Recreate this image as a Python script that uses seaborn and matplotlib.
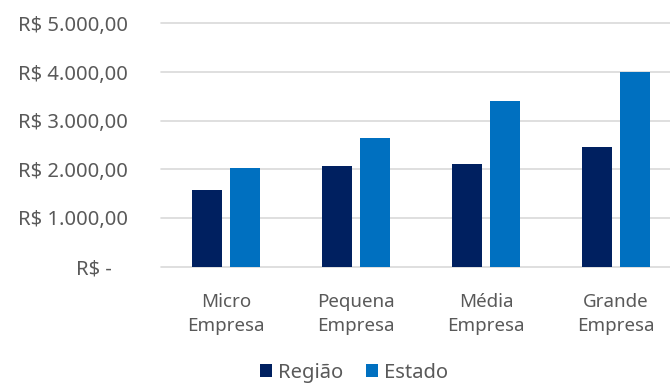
import matplotlib
matplotlib.use('Agg')
import matplotlib.pyplot as plt
import pandas as pd
import seaborn as sns
from matplotlib.patches import Patch
from matplotlib.ticker import FuncFormatter

# ── Data ───────────────────────────────────────────────────────
categorias = ['Micro\nEmpresa', 'Pequena\nEmpresa', 'Média\nEmpresa', 'Grande\nEmpresa']
regiao = [1570, 2070, 2110, 2450]
estado = [2020, 2650, 3400, 4010]
series = ['Região', 'Estado']
cores = ['#002060', '#0070C0']
yticks = [0, 1000, 2000, 3000, 4000, 5000]

df = pd.DataFrame({
    'categoria': categorias * 2,
    'valor': regiao + estado,
    'serie': [series[0]] * 4 + [series[1]] * 4,
})

sns.set_style('white')
plt.rcParams['font.family'] = ['Noto Sans', 'DejaVu Sans']
texto = '#595959'


def brl(v, pos=None):
    if v == 0:
        return 'R$ -   '
    s = f'{v:,.2f}'.replace(',', 'X').replace('.', ',').replace('X', '.')
    return f'R$ {s}'


fig = plt.figure(figsize=(6.7, 3.9), dpi=100)
ax = fig.add_axes([161 / 670, 123.5 / 390, 520 / 670, 243 / 390])

sns.barplot(data=df, x='categoria', y='valor', hue='serie',
            palette=cores, saturation=1, width=0.58, gap=0.2, ax=ax,
            edgecolor='none', legend=False)

ax.set_ylim(0, 5000)
ax.set_yticks(yticks)
ax.yaxis.set_major_formatter(FuncFormatter(brl))
ax.set_xlim(-0.5, 3.5)
ax.grid(axis='y', color='#d9d9d9', linewidth=1.2)
for gl in ax.yaxis.get_gridlines():
    gl.set_clip_on(False)
ax.set_axisbelow(True)
for sp in ax.spines.values():
    sp.set_visible(False)
ax.set_xlabel('')
ax.set_ylabel('')
ax.tick_params(axis='y', length=0, pad=24, labelsize=14.5, labelcolor=texto)
ax.tick_params(axis='x', length=0, pad=19, labelsize=13.5, labelcolor=texto)
for lbl in ax.get_xticklabels():
    lbl.set_linespacing(1.45)

handles = [Patch(facecolor=c, edgecolor='none') for c in cores]
fig.legend(handles, series, loc='lower center', bbox_to_anchor=(354 / 670, -0.028),
           ncol=2, frameon=False, fontsize=14.5, labelcolor=texto,
           handlelength=0.6, handleheight=0.6, handletextpad=0.3, columnspacing=1.1)

fig.savefig('out.png', dpi=100)
